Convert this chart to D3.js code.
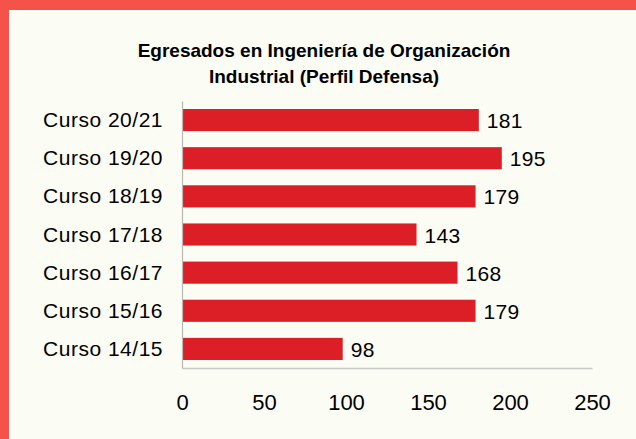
<!DOCTYPE html>
<html><head><meta charset="utf-8">
<script src="https://cdn.jsdelivr.net/npm/d3@7"></script>
<style>html,body{margin:0;padding:0;background:#fbfcf4;}svg{display:block;}</style>
</head><body>
<script>
const categories = ["Curso 20/21","Curso 19/20","Curso 18/19","Curso 17/18","Curso 16/17","Curso 15/16","Curso 14/15"];
const values = [181,195,179,143,168,179,98];
const xTicks = [0,50,100,150,200,250];
const titleLines = ["Egresados en Ingeniería de Organización","Industrial (Perfil Defensa)"];

const W = 636, H = 439;
const svg = d3.select("body").append("svg").attr("width", W).attr("height", H);
svg.append("rect").attr("width", W).attr("height", H).attr("fill", "#fbfcf4");
// frame
svg.append("rect").attr("x",0).attr("y",0).attr("width",W).attr("height",10).attr("fill","#f5524a");
svg.append("rect").attr("x",0).attr("y",0).attr("width",9).attr("height",H).attr("fill","#f5524a");

const font = "'Liberation Sans', Arial, sans-serif";
const x = d3.scaleLinear().domain([0,250]).range([182,592]);
const y = d3.scaleBand().domain(categories).range([101,368]).paddingInner(0.42).paddingOuter(0.21);

svg.append("g").selectAll("text").data(titleLines).join("text")
  .attr("x", 324).attr("y", (d,i)=>57 + i*26)
  .attr("text-anchor","middle").attr("font-family",font).attr("font-weight","bold")
  .attr("font-size",19).attr("fill","#000").text(d=>d);

// bars
svg.append("g").selectAll("rect").data(values).join("rect")
  .attr("x", x(0)).attr("y", (d,i)=>y(categories[i]))
  .attr("width", d=>x(d)-x(0)).attr("height", y.bandwidth())
  .attr("fill","#dc1f26");

// value labels
svg.append("g").selectAll("text").data(values).join("text")
  .attr("x", d=>x(d)+8).attr("y",(d,i)=>y(categories[i])+y.bandwidth()/2+8)
  .attr("font-family",font).attr("font-size",21).attr("letter-spacing","0.3px")
  .attr("fill","#000").text(d=>d);

// axes
const xAxis = d3.axisBottom(x).tickValues(xTicks).tickSize(0).tickPadding(26);
const gx = svg.append("g").attr("transform","translate(0,368)").call(xAxis);
gx.select(".domain").attr("stroke","#c8c8c4").attr("stroke-width",1.5);
gx.selectAll("text").attr("font-family",font).attr("font-size",22).attr("fill","#000");

const yAxis = d3.axisLeft(y).tickSize(0).tickPadding(19);
const gy = svg.append("g").attr("transform","translate(182,0)").call(yAxis);
gy.select(".domain").attr("stroke","#b8b8b4").attr("stroke-width",1.2);
gy.selectAll("text").attr("font-family",font).attr("font-size",21).attr("letter-spacing","0.5px")
  .attr("dy","0.34em").attr("fill","#000");
</script>
</body></html>
